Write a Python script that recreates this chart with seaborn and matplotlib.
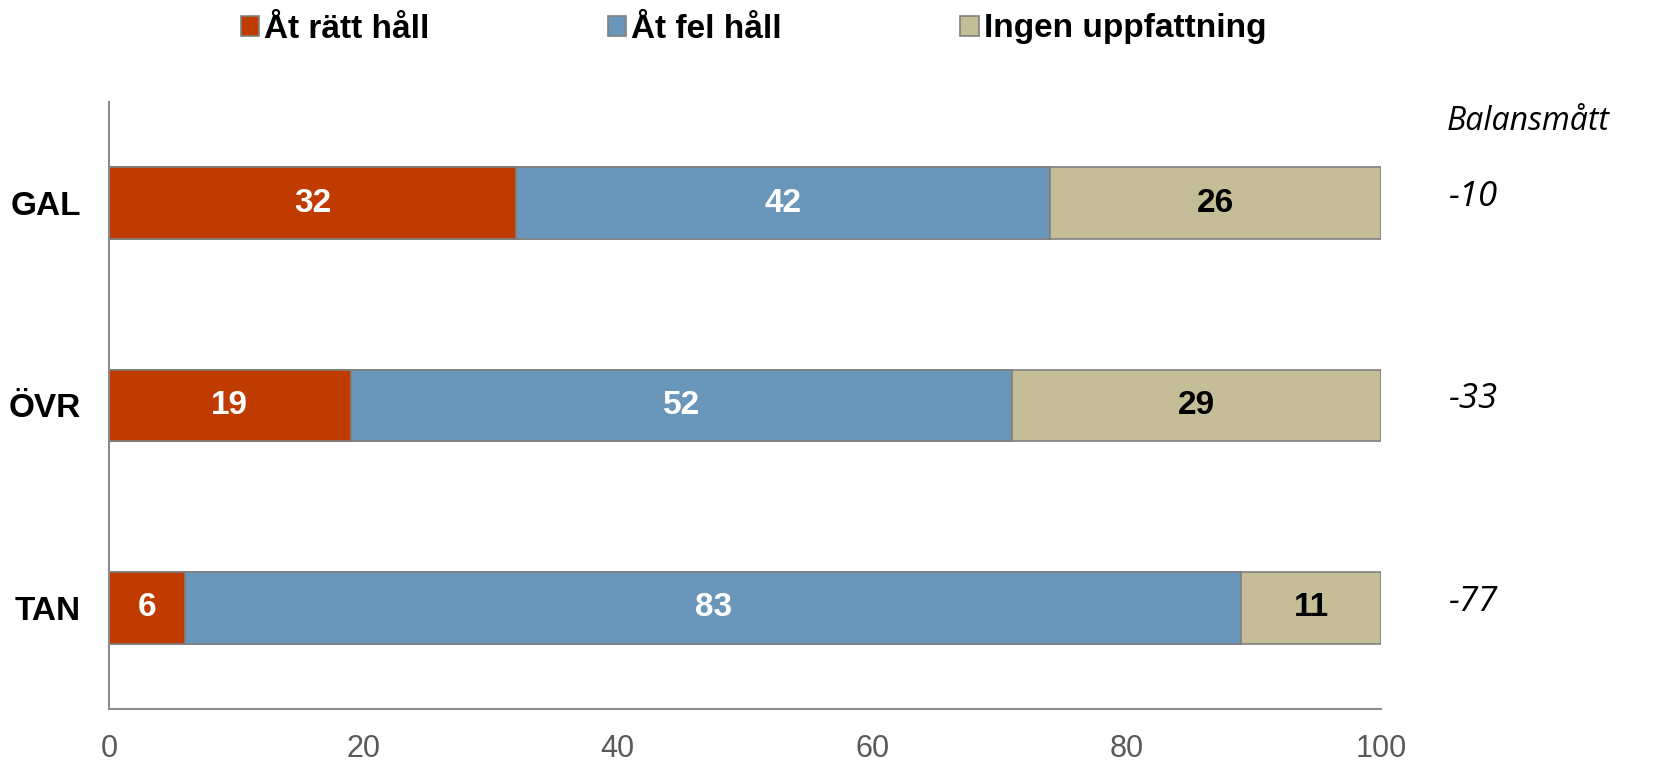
import matplotlib
matplotlib.use("Agg")
import matplotlib.pyplot as plt
import matplotlib.patches as mpatches
import seaborn as sns
import pandas as pd

categories = ["GAL", "ÖVR", "TAN"]
ratt = [32, 19, 6]
fel = [42, 52, 83]
ingen = [26, 29, 11]
balans = [-10, -33, -77]
series_names = ["Åt rätt håll", "Åt fel håll", "Ingen uppfattning"]
colors = ["#BF3B00", "#6A96BA", "#C4BD97"]
text_colors = ["white", "white", "black"]
xticks = [0, 20, 40, 60, 80, 100]

sns.set_style("white")
plt.rcParams["font.family"] = ["Liberation Sans", "DejaVu Sans"]
plt.rcParams["text.color"] = "black"
plt.rcParams["ytick.color"] = "black"

df = pd.DataFrame({"cat": categories, "ratt": ratt, "fel": fel, "ingen": ingen})
df["c1"] = df["ratt"]
df["c2"] = df["ratt"] + df["fel"]
df["c3"] = df["c2"] + df["ingen"]

fig = plt.figure(figsize=(16.54, 7.61), dpi=100)
ax = fig.add_axes([0.0659, 0.0683, 0.769, 0.7977])

# stacked look by overlaying cumulative totals, largest first
for col, color in zip(["c3", "c2", "c1"], colors[::-1]):
    sns.barplot(data=df, y="cat", x=col, color=color, orient="h", width=0.355,
                edgecolor="#808080", linewidth=1.2, saturation=1, ax=ax)

# segment labels
for i, cat in enumerate(categories):
    left = 0
    for vals, tc in zip([ratt, fel, ingen], text_colors):
        v = vals[i]
        ax.text(left + v / 2, i, str(v), ha="center", va="center",
                color=tc, fontsize=24, fontweight="bold")
        left += v

ax.set_xlim(0, 100)
ax.set_ylim(2.5, -0.5)
ax.set_xticks(xticks)
ax.set_xticklabels([str(t) for t in xticks], fontsize=22, color="#595959")
ax.tick_params(axis="x", length=0, pad=18)
ax.tick_params(axis="y", length=0, pad=20, labelcolor="black")
for lab in ax.get_yticklabels():
    lab.set_fontsize(24)
    lab.set_fontweight("bold")
ax.set_xlabel("")
ax.set_ylabel("")
for s in ["top", "right"]:
    ax.spines[s].set_visible(False)
for s in ["left", "bottom"]:
    ax.spines[s].set_color("#8C8C8C")
    ax.spines[s].set_linewidth(1.5)

# balance column on the right
fig.text(1447 / 1654, 1 - 121 / 761, "Balansmått", fontsize=23, style="italic",
         family=["Open Sans", "DejaVu Sans"], ha="left", va="center")
for i, b in enumerate(balans):
    ax.text(1.0525, i - 0.03, str(b), transform=ax.get_yaxis_transform(),
            fontsize=25, style="italic", family=["Open Sans", "DejaVu Sans"],
            ha="left", va="center")

handles = [mpatches.Patch(facecolor=c, edgecolor="#808080", linewidth=1.2, label=n)
           for c, n in zip(colors, series_names)]
fig.legend(handles=handles, loc="center left", bbox_to_anchor=(211 / 1654, 1 - 29 / 761),
           ncol=3, frameon=False, handlelength=0.55, handleheight=0.55, handletextpad=0.15,
           columnspacing=5.35, prop={"size": 24, "weight": "bold"})

fig.savefig("out.png", dpi=100)
